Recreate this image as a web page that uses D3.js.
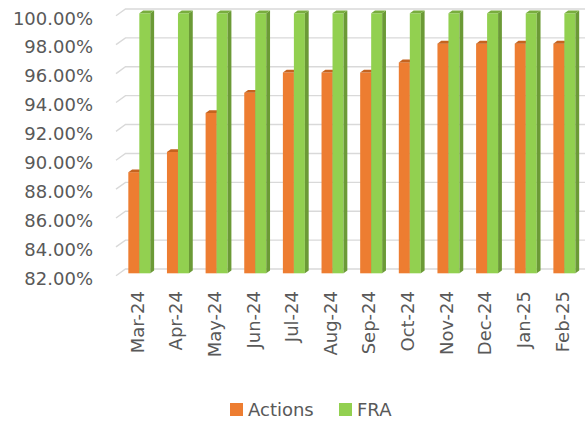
<!DOCTYPE html>
<html><head><meta charset="utf-8">
<script src="https://cdn.jsdelivr.net/npm/d3@7"></script>
<style>body{margin:0;background:#fff}svg{display:block}</style>
</head><body>
<svg id="c" width="585" height="426"></svg>
<script>
const categories = ["Mar-24","Apr-24","May-24","Jun-24","Jul-24","Aug-24","Sep-24","Oct-24","Nov-24","Dec-24","Jan-25","Feb-25"];
const actions = [89.0, 90.4, 93.1, 94.5, 95.9, 95.9, 95.9, 96.6, 97.9, 97.9, 97.9, 97.9];
const fra = [100, 100, 100, 100, 100, 100, 100, 100, 100, 100, 100, 100];
const seriesNames = ["Actions", "FRA"];
const yTicks = [82, 84, 86, 88, 90, 92, 94, 96, 98, 100];

const colors = {
  Actions: {front:"#ED7D31", side:"#B85C1F", top:"#C5631F"},
  FRA: {front:"#92D050", side:"#6B9A36", top:"#78AD3E"}
};
const font = "DejaVu Sans, Verdana, sans-serif";
const svg = d3.select("#c");

const y = d3.scaleLinear().domain([82, 100]).range([273.3, 13.3]);
const x = d3.scaleBand().domain(categories).range([120, 583.7]).padding(0);
const dx = 3.8, dy = -2.8;
const barW = 11;

// gridlines (3D wall)
const grid = svg.append("g");
yTicks.forEach(v => {
  const yy = y(v);
  grid.append("path")
    .attr("d", `M116,${yy+2.5} L125.5,${yy-4.3} L585,${yy-4.3}`)
    .attr("fill","none").attr("stroke","#D9D9D9").attr("stroke-width",1.4);
});

// y labels
svg.append("g").selectAll("text").data(yTicks).join("text")
  .attr("x", 93).attr("y", d => y(d) + 5).attr("dy","0.35em")
  .attr("text-anchor","end").attr("font-family",font).attr("font-size",18)
  .attr("fill","#595959").text(d => d3.format(".2f")(d) + "%");

// bars
function bar3d(g, x0, v, c) {
  const yt = y(v), yb = y(82), x1 = x0 + barW;
  g.append("rect").attr("x", x0).attr("y", yt).attr("width", barW).attr("height", yb - yt).attr("fill", c.front);
  g.append("path").attr("d", `M${x1},${yt} L${x1+dx},${yt+dy} L${x1+dx},${yb+dy} L${x1},${yb}Z`).attr("fill", c.side);
  g.append("path").attr("d", `M${x0},${yt} L${x0+dx},${yt+dy} L${x1+dx},${yt+dy} L${x1},${yt}Z`).attr("fill", c.top);
}
const bars = svg.append("g");
categories.forEach((cat, i) => {
  const cx = x(cat) + x.bandwidth() / 2;
  bar3d(bars, cx - barW, actions[i], colors.Actions);
  bar3d(bars, cx, fra[i], colors.FRA);
});

// x labels
svg.append("g").selectAll("text").data(categories).join("text")
  .attr("transform", d => `translate(${x(d) + x.bandwidth()/2 - 2},291) rotate(-90)`)
  .attr("dy","0.35em").attr("text-anchor","end")
  .attr("font-family",font).attr("font-size",18).attr("fill","#595959")
  .text(d => d);

// legend
const leg = svg.append("g");
const legX = [230, 339];
seriesNames.forEach((s, i) => {
  leg.append("rect").attr("x", legX[i]).attr("y", 403).attr("width", 13).attr("height", 13).attr("fill", colors[s].front);
  leg.append("text").attr("x", legX[i] + 18).attr("y", 416)
    .attr("font-family",font).attr("font-size",18).attr("fill","#595959").text(s);
});
</script>
</body></html>
